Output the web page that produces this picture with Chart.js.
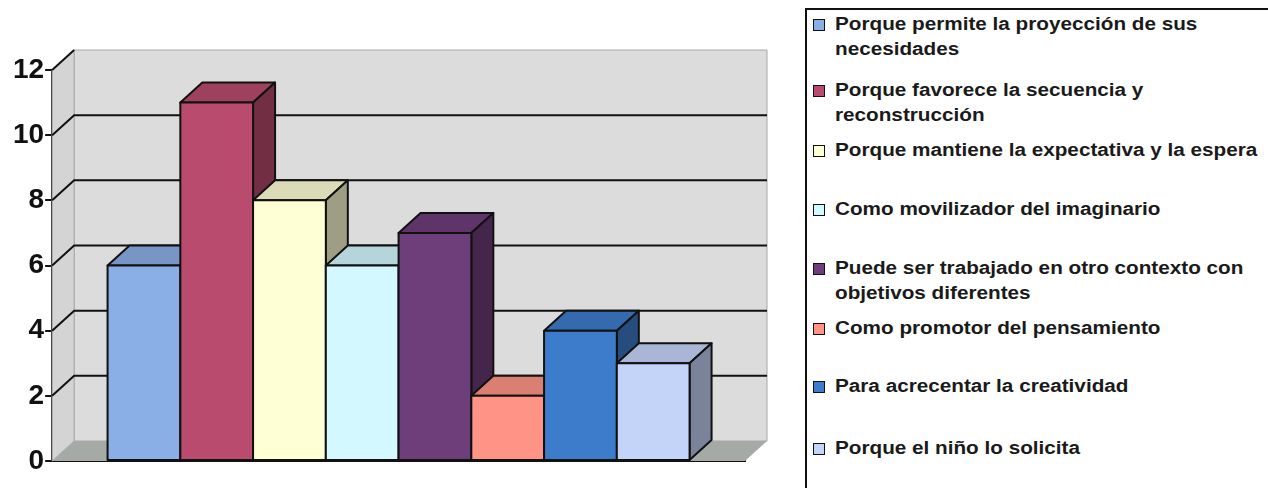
<!DOCTYPE html>
<html>
<head>
<meta charset="utf-8">
<script src="https://cdn.jsdelivr.net/npm/chart.js@4/dist/chart.umd.min.js"></script>
<style>
  html, body { margin: 0; padding: 0; background: #fff; }
  body { width: 1268px; height: 488px; position: relative; overflow: hidden; font-family: "Liberation Sans", Arial, sans-serif; }
  #chartBox { position: absolute; left: 0; top: 0; width: 790px; height: 488px; }
  #legend { position: absolute; left: 805px; top: 8px; width: 480px; height: 500px;
            border-left: 2px solid #111; border-top: 2px solid #111; box-sizing: border-box; }
  .item { position: absolute; left: 6px; font-weight: bold; font-size: 18px; line-height: 25px; color: #1a1a1a; }
  .item .sw { position: absolute; left: 0; top: 7px; width: 10px; height: 10px; border: 1.5px solid #111; }
  .item .tx { margin-left: 22px; white-space: nowrap; transform: scaleX(1.15); transform-origin: 0 0; }
</style>
</head>
<body>
<div id="chartBox"><canvas id="chart"></canvas></div>
<div id="legend"></div>
<script>
// Series labels (one line per array entry, as wrapped in the legend)
const seriesLabels = [
    ['Porque permite la proyección de sus', 'necesidades'],
    ['Porque favorece la secuencia y', 'reconstrucción'],
    ['Porque mantiene la expectativa y la espera'],
    ['Como movilizador del imaginario'],
    ['Puede ser trabajado en otro contexto con', 'objetivos diferentes'],
    ['Como promotor del pensamiento'],
    ['Para acrecentar la creatividad'],
    ['Porque el niño lo solicita']
];
const seriesValues = [6, 11, 8, 6, 7, 2, 4, 3];
const seriesColors = ['#8aaee6', '#b84b6e', '#ffffd6', '#d4f8ff', '#6e3e7a', '#ff9486', '#3d7cca', '#c4d4f8'];
const categories = [''];
const yTicks = [0, 2, 4, 6, 8, 10, 12];

const DX = 22, DY = -20; // depth of the 3D effect

function shade(hex, f) {
    const n = parseInt(hex.slice(1), 16);
    const r = Math.round(((n >> 16) & 255) * f);
    const g = Math.round(((n >> 8) & 255) * f);
    const b = Math.round((n & 255) * f);
    return `rgb(${r},${g},${b})`;
}

function poly(ctx, pts, fill, stroke, lw) {
    ctx.beginPath();
    ctx.moveTo(pts[0][0], pts[0][1]);
    for (let i = 1; i < pts.length; i++) ctx.lineTo(pts[i][0], pts[i][1]);
    ctx.closePath();
    if (fill) { ctx.fillStyle = fill; ctx.fill(); }
    if (stroke) { ctx.strokeStyle = stroke; ctx.lineWidth = lw || 1; ctx.stroke(); }
}

// walls, floor and gridlines behind the bars
const wallsPlugin = {
    id: 'walls',
    beforeDatasetsDraw(chart) {
        const { ctx, chartArea: a } = chart;
        const y = chart.scales.y;
        ctx.save();
        // back wall
        poly(ctx, [[a.left + DX, a.top + DY], [a.right + DX, a.top + DY], [a.right + DX, a.bottom + DY], [a.left + DX, a.bottom + DY]], '#dcdcdc', '#a8a8a8', 1);
        // side wall
        poly(ctx, [[a.left, a.top], [a.left + DX, a.top + DY], [a.left + DX, a.bottom + DY], [a.left, a.bottom]], '#d4d4d4', '#a8a8a8', 1);
        // floor
        poly(ctx, [[a.left, a.bottom], [a.left + DX, a.bottom + DY], [a.right + DX, a.bottom + DY], [a.right, a.bottom]], '#a6aaa6', null);
        // gridlines
        ctx.strokeStyle = '#111';
        ctx.lineWidth = 2;
        yTicks.forEach(v => {
            if (v === 0 || v === 12) return;
            const py = y.getPixelForValue(v);
            ctx.beginPath();
            ctx.moveTo(a.left, py);
            ctx.lineTo(a.left + DX, py + DY);
            ctx.lineTo(a.right + DX, py + DY);
            ctx.stroke();
        });
        // diagonal at the top tick
        const top = y.getPixelForValue(12);
        ctx.beginPath();
        ctx.moveTo(a.left, top);
        ctx.lineTo(a.left + DX, top + DY);
        ctx.stroke();
        ctx.restore();
    }
};

// 3D boxes drawn from each bar element, left to right
const boxesPlugin = {
    id: 'boxes',
    afterDatasetsDraw(chart) {
        const { ctx } = chart;
        ctx.save();
        ctx.lineJoin = 'round';
        chart.data.datasets.forEach((ds, i) => {
            const meta = chart.getDatasetMeta(i);
            meta.data.forEach(bar => {
                const { x, y, base, width } = bar.getProps(['x', 'y', 'base', 'width'], true);
                const l = x - width / 2, r = x + width / 2;
                const c = seriesColors[i];
                poly(ctx, [[l, y], [l + DX, y + DY], [r + DX, y + DY], [r, y]], shade(c, 0.86), '#111', 2);
                poly(ctx, [[r, y], [r + DX, y + DY], [r + DX, base + DY], [r, base]], shade(c, 0.62), '#111', 2);
                poly(ctx, [[l, y], [r, y], [r, base], [l, base]], c, '#111', 2);
            });
        });
        ctx.restore();
    }
};

const ctx = document.getElementById('chart').getContext('2d');
window.myChart = new Chart(ctx, {
    type: 'bar',
    data: {
        labels: categories,
        datasets: seriesValues.map((v, i) => ({
            label: seriesLabels[i].join(' '),
            data: [v],
            backgroundColor: 'rgba(0,0,0,0)',
            borderWidth: 0,
            barPercentage: 1,
            categoryPercentage: 0.84
        }))
    },
    options: {
        responsive: true,
        maintainAspectRatio: false,
        animation: false,
        layout: { padding: { left: 12, right: 45, top: 70, bottom: 19 } },
        plugins: {
            legend: { display: false },
            tooltip: { enabled: false }
        },
        scales: {
            x: {
                grid: { display: false },
                border: { display: true, color: '#111', width: 2 },
                ticks: { display: false }
            },
            y: {
                min: 0,
                max: 12,
                ticks: {
                    stepSize: 2,
                    color: '#111',
                    padding: 1,
                    font: { family: '"Liberation Sans", Arial, sans-serif', size: 28, weight: 'bold' }
                },
                grid: { drawOnChartArea: false, drawTicks: true, tickLength: 7, color: '#111', lineWidth: 2 },
                border: { display: true, color: '#111', width: 2 }
            }
        }
    },
    plugins: [wallsPlugin, boxesPlugin]
});

// HTML legend built from the series arrays
const legendEl = document.getElementById('legend');
const itemTops = [2, 68, 128, 187, 246, 306, 364, 426];
seriesLabels.forEach((lines, i) => {
    const item = document.createElement('div');
    item.className = 'item';
    item.style.top = itemTops[i] + 'px';
    item.innerHTML = `<span class="sw" style="background:${seriesColors[i]}"></span><div class="tx">${lines.join('<br>')}</div>`;
    legendEl.appendChild(item);
});
</script>
</body>
</html>
